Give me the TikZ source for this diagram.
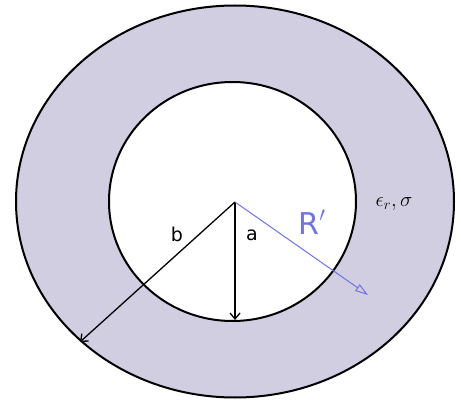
\documentclass[tikz,border=0pt]{standalone}
\usepackage{fontspec}
\setsansfont{DejaVu Sans}
\usetikzlibrary{arrows.meta}
\definecolor{shell}{HTML}{D0CEE0}
\definecolor{rblue}{HTML}{7272E0}
\tikzset{
  rim/.style={draw=black, line width=2pt},
  radius/.style={draw=black, line width=1.3pt, -{Straight Barb[length=6pt,width=10pt]}},
  rprime/.style={draw=rblue, line width=1pt, -{Triangle[open,length=13pt,width=8pt]}},
  lbl/.style={font=\sffamily\fontsize{19}{19}\selectfont, inner sep=0pt}
}
\begin{document}
\begin{tikzpicture}[x=1pt,y=-1pt]
\useasboundingbox[fill=white] (0,0) rectangle (461,401);
\draw[rim, fill=shell] (235,201.5) ellipse [x radius=219, y radius=196];
\draw[rim, fill=white] (232.5,201.5) ellipse [x radius=123.5, y radius=119.5];
\coordinate (o) at (235,202);
\coordinate (ea) at (235,320);
\coordinate (eb) at (80,342);
\coordinate (er) at (368,295);
\draw[radius] (o) -- (ea);
\draw[radius] (o) -- (eb);
\draw[rprime] (o) -- (er);
\node[lbl] (lb) at (177,234) {b};
\node[lbl] (la) at (252,235) {a};
\node[inner sep=0pt, text=rblue, font=\sffamily\fontsize{30}{30}\selectfont] (lr) at (312,222) {R\raisebox{4pt}{$^{\prime}$}};
\node[inner sep=0pt, font=\fontsize{20}{20}\selectfont] (le) at (394,204) {$\epsilon_r,\sigma$};
\end{tikzpicture}
\end{document}
